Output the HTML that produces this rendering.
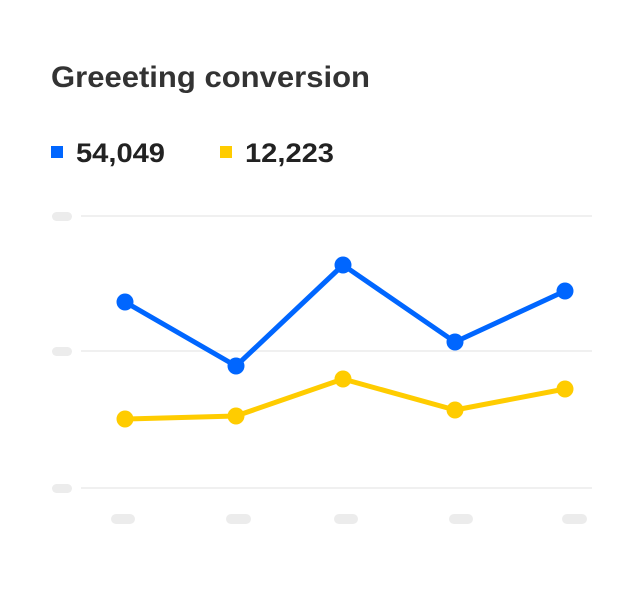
<!DOCTYPE html>
<html><head><style>
body{margin:0;width:640px;height:592px;background:#fff;font-family:"Liberation Sans",sans-serif;overflow:hidden}
</style></head><body>
<svg width="640" height="592" xmlns="http://www.w3.org/2000/svg">
<text x="51" y="87" font-family="Liberation Sans, sans-serif" font-size="30" font-weight="bold" fill="#333" textLength="319" lengthAdjust="spacingAndGlyphs">Greeeting conversion</text>
<rect x="51" y="146" width="12" height="12" fill="#0066ff"/>
<text x="76" y="162" font-family="Liberation Sans, sans-serif" font-size="27" font-weight="bold" fill="#222" textLength="89" lengthAdjust="spacingAndGlyphs">54,049</text>
<rect x="220" y="146" width="12" height="12" fill="#ffcc00"/>
<text x="245" y="162" font-family="Liberation Sans, sans-serif" font-size="27" font-weight="bold" fill="#222" textLength="89" lengthAdjust="spacingAndGlyphs">12,223</text>
<g stroke="#ebebeb" stroke-width="1.5">
<line x1="81" y1="216" x2="592" y2="216"/>
<line x1="81" y1="351" x2="592" y2="351"/>
<line x1="81" y1="488" x2="592" y2="488"/>
</g>
<g fill="#ececec">
<rect x="52" y="212" width="20" height="9" rx="4.5"/>
<rect x="52" y="347" width="20" height="9" rx="4.5"/>
<rect x="52" y="484" width="20" height="9" rx="4.5"/>
<rect x="111" y="514" width="24" height="10" rx="5"/>
<rect x="226" y="514" width="25" height="10" rx="5"/>
<rect x="334" y="514" width="24" height="10" rx="5"/>
<rect x="449" y="514" width="24" height="10" rx="5"/>
<rect x="562" y="514" width="25" height="10" rx="5"/>
</g>
<polyline points="125,419 236,416 343,379 455,410 565,389" fill="none" stroke="#ffcc00" stroke-width="5" stroke-linejoin="round"/>
<g fill="#ffcc00"><circle cx="125" cy="419" r="8.5"/><circle cx="236" cy="416" r="8.5"/><circle cx="343" cy="379" r="8.5"/><circle cx="455" cy="410" r="8.5"/><circle cx="565" cy="389" r="8.5"/></g>
<polyline points="125,302 236,366 343,265 455,342 565,291" fill="none" stroke="#0066ff" stroke-width="5" stroke-linejoin="round"/>
<g fill="#0066ff"><circle cx="125" cy="302" r="8.5"/><circle cx="236" cy="366" r="8.5"/><circle cx="343" cy="265" r="8.5"/><circle cx="455" cy="342" r="8.5"/><circle cx="565" cy="291" r="8.5"/></g>
</svg>
</body></html>
